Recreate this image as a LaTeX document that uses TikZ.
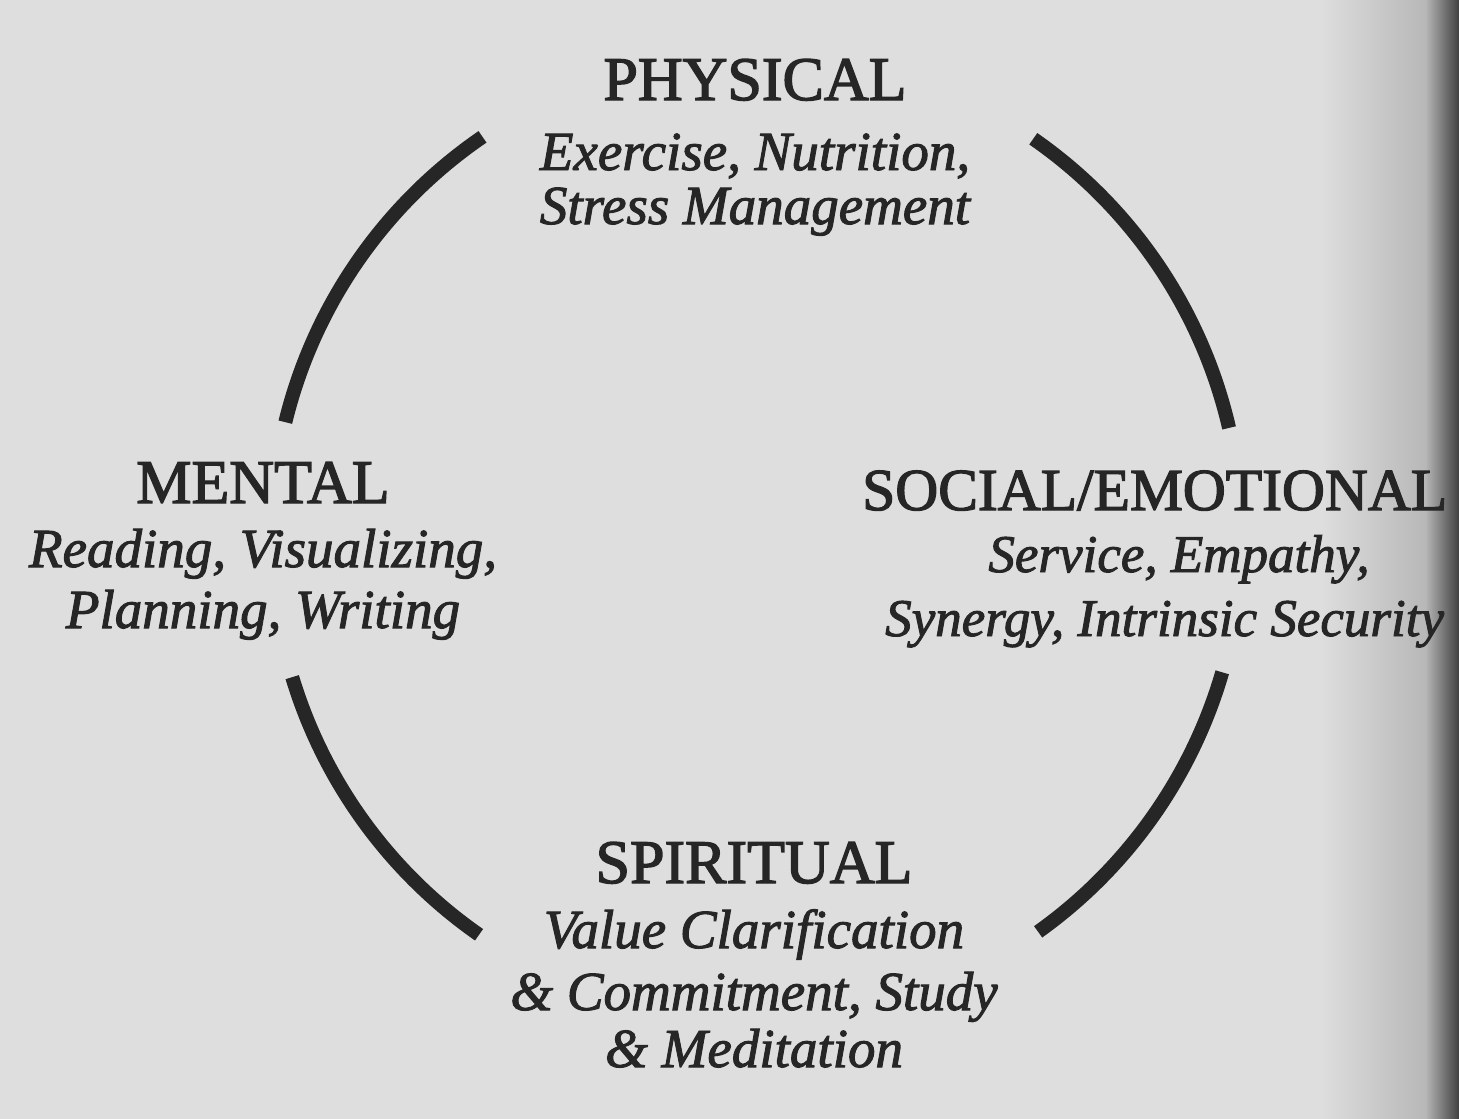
\documentclass[tikz,border=0pt]{standalone}
\usepackage{fontspec}
\setmainfont{Liberation Serif}
\newfontfamily\titlefont{Liberation Serif}[FakeBold=2.2]
\newfontfamily\subfont{Liberation Serif}[FakeBold=1.8]
\definecolor{bg}{HTML}{DEDEDE}
\definecolor{ink}{HTML}{262626}
\definecolor{edgemid}{HTML}{B8B8B8}
\definecolor{edgedark}{HTML}{404040}
\begin{document}
\begin{tikzpicture}[x=1pt,y=-1pt,
  title/.style={font=\titlefont\fontsize{62}{72}\selectfont, text=ink, inner sep=0pt, anchor=base},
  sub/.style={font=\subfont\fontsize{55}{60}\selectfont\itshape, text=ink, inner sep=0pt, anchor=base},
  ring/.style={draw=ink, line width=14pt, line cap=butt}]
\useasboundingbox (0,0) rectangle (1459,1119);
\fill[bg] (0,0) rectangle (1459,1119);
\shade[left color=bg, right color=edgemid] (1320,0) rectangle (1425,1119);
\shade[left color=edgemid, right color=edgedark] (1425,0) rectangle (1459,1119);
% ring arcs
\draw[ring] ([shift={(756.5,537)}]-124.4:485) arc[start angle=-124.4, end angle=-166.3, radius=485];
\draw[ring] ([shift={(756.5,537)}]-55.2:485) arc[start angle=-55.2, end angle=-13.0, radius=485];
\draw[ring] ([shift={(756.5,537)}]-196.8:485) arc[start angle=-196.8, end angle=-235.1, radius=485];
\draw[ring] ([shift={(756.5,537)}]16.2:485) arc[start angle=16.2, end angle=54.5, radius=485];
% texts
\node[title] (phys) at (755,100) {PHYSICAL};
\node[sub] (phys1) at (755,170) {Exercise, Nutrition,};
\node[sub] (phys2) at (755,224) {Stress Management};
\node[title] (ment) at (263,503) {MENTAL};
\node[sub] (ment1) at (263,567) {Reading, Visualizing,};
\node[sub] (ment2) at (263,628) {Planning, Writing};
\node[title, font=\titlefont\fontsize{59.5}{72}\selectfont, anchor=base west] (soc) at (862,510) {SOCIAL/EMOTIONAL};
\node[sub, font=\subfont\fontsize{53}{60}\selectfont\itshape] (soc1) at (1179,572) {Service, Empathy,};
\node[sub, font=\subfont\fontsize{53}{60}\selectfont\itshape, anchor=base west] (soc2) at (885,636) {Synergy, Intrinsic Security};
\node[title] (spir) at (754,883) {SPIRITUAL};
\node[sub] (spir1) at (754,948) {Value Clarification};
\node[sub] (spir2) at (754,1010) {\&~Commitment, Study};
\node[sub] (spir3) at (754,1067) {\&~Meditation};
\end{tikzpicture}
\end{document}
